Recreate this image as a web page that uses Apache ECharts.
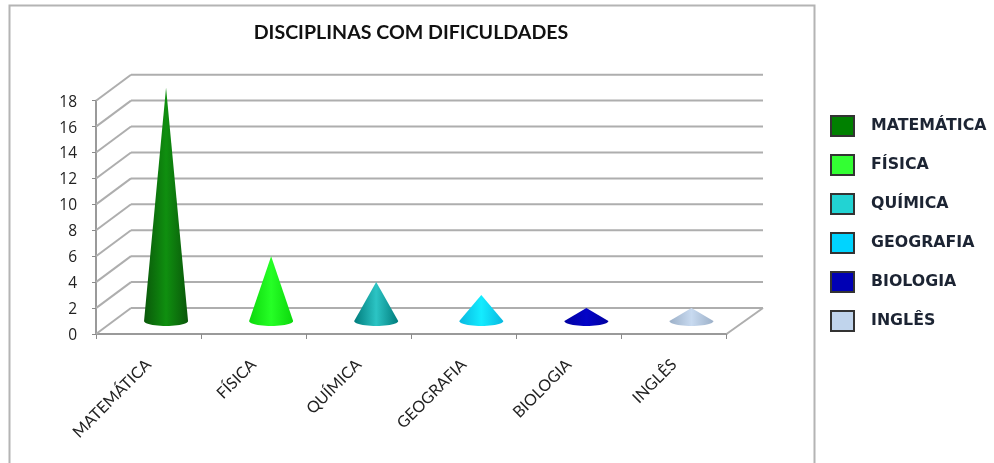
<!DOCTYPE html>
<html><head><meta charset="utf-8">
<style>html,body{margin:0;padding:0;background:#fff}#c{width:994px;height:463px}</style>
<script src="https://cdn.jsdelivr.net/npm/echarts@6/dist/echarts.min.js"></script>
</head><body><div id="c"></div>
<script>
const categories = ['MATEMÁTICA','FÍSICA','QUÍMICA','GEOGRAFIA','BIOLOGIA','INGLÊS'];
const values = [18,5,3,2,1,1];
const baseColors = ['#008000','#33ff33','#22d3d3','#00d4ff','#0000b4','#c0d4ec'];
const coneEdge = ['#0a580a','#0cd80c','#007c7c','#08b8e0','#0000a0','#9cb0c8'];
const coneMid = ['#0f8f0f','#26ff26','#2cc4c4','#14ecff','#0404c8','#c8daf0'];
const yTicks = [0,2,4,6,8,10,12,14,16,18];
const depthX = 35, depthY = -26;

function wallItem(params, api){
  const v = api.value(0);
  const front = api.coord([0, v]);
  const size = api.size([1, 0])[0];
  const fx = front[0] - size / 2, fy = front[1];
  const rightX = fx + size * categories.length;
  const st = {stroke:'#aeaeae', lineWidth:2, fill:null};
  const children = [
    {type:'line', shape:{x1:fx,y1:fy,x2:fx+depthX,y2:fy+depthY}, style:st},
    {type:'line', shape:{x1:fx+depthX,y1:fy+depthY,x2:rightX+depthX+1.5,y2:fy+depthY}, style:st}
  ];
  if (v === 0) children.push({type:'line', shape:{x1:rightX,y1:fy,x2:rightX+depthX+1.5,y2:fy+depthY}, style:st});
  return {type:'group', children};
}
function coneItem(i){
  return function(params, api){
    const top = api.coord([api.value(0), api.value(1)]);
    const base = api.coord([api.value(0), 0]);
    const cx = base[0] + depthX / 2, cy = base[1] + depthY / 2;
    const tx = top[0] + depthX / 2, ty = top[1] + depthY / 2;
    const rx = 22, ry = 5;
    const pts = [[tx, ty]];
    for (let k = 0; k <= 24; k++){
      const a = Math.PI * k / 24;
      pts.push([cx - rx * Math.cos(a), cy + ry * Math.sin(a)]);
    }
    return {type:'polygon', shape:{points:pts}, style:{
      fill:new echarts.graphic.LinearGradient(0,0,1,0,[
        {offset:0,color:coneEdge[i]},{offset:0.5,color:coneMid[i]},{offset:1,color:coneEdge[i]}])
    }};
  };
}
const series = [{
  type:'custom', name:'walls', silent:true, z:1,
  data:yTicks.map(v=>[v]), encode:{y:0}, renderItem:wallItem, clip:false, animation:false
}];
categories.forEach((c,i)=>{
  series.push({type:'custom', name:c, z:3, clip:false, animation:false,
    itemStyle:{color:baseColors[i]},
    data:[[i, values[i]]], encode:{x:0,y:1}, renderItem:coneItem(i)});
});
const chart = echarts.init(document.getElementById('c'),null,{renderer:'canvas'});
chart.setOption({
  animation:false, backgroundColor:'#fff',
  title:{text:'DISCIPLINAS COM DIFICULDADES', left:406, top:18, textAlign:'center',
    textStyle:{fontFamily:'Lato',fontSize:19.6,fontWeight:'bold',color:'#111'}},
  legend:{orient:'vertical', left:825, top:107, itemWidth:23, itemHeight:20, itemGap:11,
    data:categories, icon:'rect', selectedMode:false,
    itemStyle:{borderColor:'#333',borderWidth:2},
    textStyle:{fontFamily:'DejaVu Sans',fontSize:15.8,fontWeight:'bold',color:'#1c2433',lineHeight:20,padding:[0,0,8,12]}},
  grid:{left:96, right:994-726.5, top:100.7, bottom:463-334},
  xAxis:{type:'category', data:categories, boundaryGap:true,
    axisLine:{lineStyle:{color:'#9a9a9a',width:2}},
    axisTick:{show:true,length:5,lineStyle:{color:'#8a8a8a',width:1}},
    axisLabel:{rotate:45,interval:0,margin:28,color:'#222',fontFamily:'Lato',fontSize:16}},
  yAxis:{type:'value', min:0, max:18, interval:2,
    axisLine:{show:true,lineStyle:{color:'#9a9a9a',width:2}},
    axisTick:{show:true,length:4,lineStyle:{color:'#8a8a8a',width:1}},
    splitLine:{show:false},
    axisLabel:{margin:19,color:'#222',fontFamily:'Open Sans',fontSize:15.5,verticalAlign:'top',lineHeight:3}},
  graphic:[{type:'rect',shape:{x:9.5,y:5.5,width:805,height:470},style:{fill:null,stroke:'#b4b4b4',lineWidth:2},silent:true}],
  series
});
</script></body></html>
